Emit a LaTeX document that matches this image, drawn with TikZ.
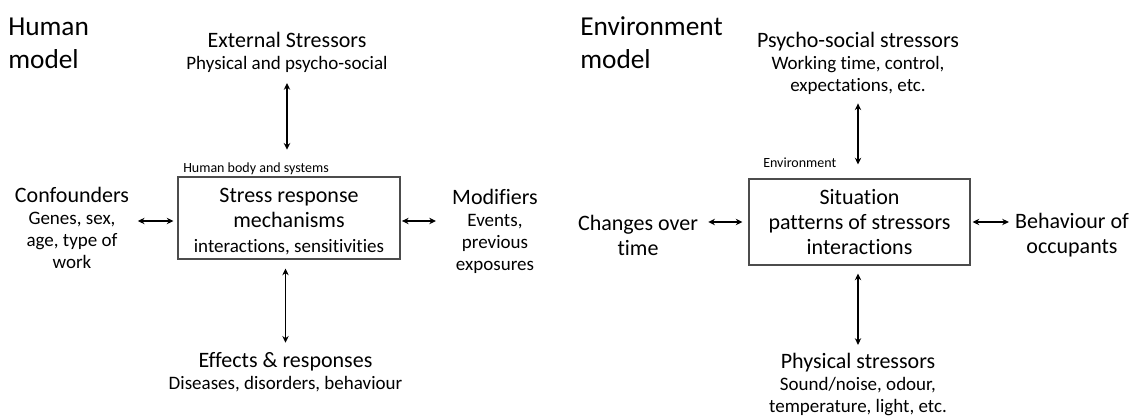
\documentclass[tikz,border=0pt]{standalone}
\usepackage{fontspec}
\setmainfont{Carlito}[Ligatures={NoCommon}]
\usetikzlibrary{positioning,calc,arrows.meta}

\newcommand{\txttitle}{\fontsize{20.5}{24.75}\selectfont}
\newcommand{\txtmain}{\fontsize{16.5}{18.75}\selectfont}
\newcommand{\txtsub}{\fontsize{14.25}{16.5}\selectfont}
\newcommand{\txtsmall}{\fontsize{10.5}{12}\selectfont}

\tikzset{
  dbl/.style={<->, >={Stealth[length=5pt,width=4.8pt]}, line width=1.1pt},
  blk/.style={align=center, inner sep=0pt, font=\txtsub},
  sysbox/.style={draw=black!70, line width=0.9pt, minimum width=166.5pt,
    minimum height=61.5pt, align=center, inner sep=0pt, font=\txtmain},
  ttl/.style={align=left, inner sep=0pt, anchor=west, font=\txttitle},
  tag/.style={inner sep=0pt, anchor=base west, font=\txtsmall}
}

\begin{document}
\begin{tikzpicture}[x=0.75pt, y=-0.75pt]
  \useasboundingbox (0,0) rectangle (1136,416);

  % Human model
  \node[ttl] (htitle) at (8,43) {Human\\model};
  \node[sysbox] (hbox) at (289,218) {\rule{0pt}{16pt}Stress response\\mechanisms\\{\txtsub interactions, sensitivities}};
  \node[tag] (hlabel) at (183,173) {Human body and systems};
  \node[blk] (ext) at (287,52) {{\txtmain External Stressors}\\Physical and psycho-social};
  \node[blk] (conf) at (72,228) {{\txtmain Confounders}\\Genes, sex,\\age, type of\\work};
  \node[blk] (modif) at (495,231) {{\txtmain Modifiers}\\Events,\\previous\\exposures};
  \node[blk] (eff) at (285.5,372) {{\txtmain Effects \& responses}\\Diseases, disorders, behaviour};

  \draw[dbl, shorten <=8pt, shorten >=20pt] (ext.south) -- (ext.south |- hbox.north);
  \draw[dbl, shorten <=6.75pt, shorten >=7pt] (hbox.south -| eff) -- (eff.north);
  \draw[dbl, shorten <=3pt, shorten >=6.4pt] ([yshift=-2.25pt]hbox.west) -- ([yshift=-2.25pt]hbox.west -| conf.east);
  \draw[dbl, shorten <=1pt, shorten >=12pt] ([yshift=-2.25pt]hbox.east) -- ([yshift=-2.25pt]hbox.east -| modif.west);

  % Environment model
  \node[ttl] (etitle) at (580,43) {Environment\\model};
  \node[sysbox, minimum width=165.75pt, minimum height=64.5pt] (ebox) at (859.5,222) {Situation\\patterns of stressors\\interactions};
  \node[tag] (elabel) at (763,168) {Environment};
  \node[blk] (psy) at (858,63) {{\txtmain Psycho-social stressors}\\Working time, control,\\expectations, etc.};
  \node[blk, font=\txtmain] (chg) at (638,235) {Changes over\\time};
  \node[blk, font=\txtmain] (beh) at (1072,235) {Behaviour of\\occupants};
  \node[blk] (phys) at (858,384) {{\txtmain Physical stressors}\\Sound/noise, odour,\\temperature, light, etc.};

  \draw[dbl, shorten <=6.75pt, shorten >=10.5pt] (psy.south) -- (psy.south |- ebox.north);
  \draw[dbl, shorten <=6pt, shorten >=5.7pt] (ebox.south -| phys) -- (phys.north);
  \draw[dbl, shorten <=4.5pt, shorten >=7.5pt] (ebox.west) -- (ebox.west -| chg.east);
  \draw[dbl, shorten <=1.5pt, shorten >=4.5pt] (ebox.east) -- (ebox.east -| beh.west);
\end{tikzpicture}
\end{document}
